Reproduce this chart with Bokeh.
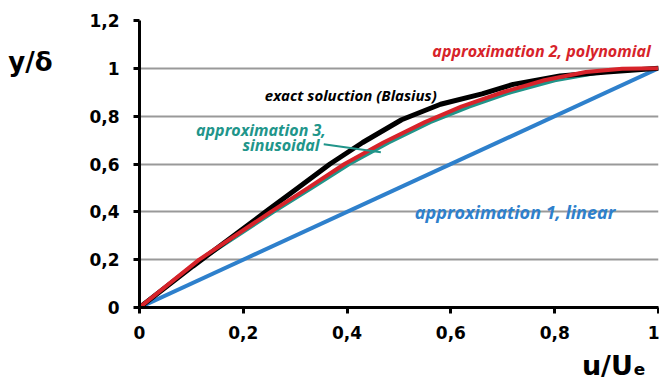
from bokeh.plotting import figure
from bokeh.models import Label, FixedTicker, Range1d, LinearAxis
from bokeh.embed import file_html
from bokeh.resources import INLINE

# Data
blasius_x = [0.0, 0.103, 0.243, 0.305, 0.367, 0.43, 0.505, 0.58, 0.66, 0.72, 0.81, 0.9, 1.0]
blasius_y = [0.0, 0.173, 0.40, 0.50, 0.60, 0.69, 0.785, 0.85, 0.893, 0.933, 0.968, 0.985, 1.0]

poly_x = [0.0, 0.115, 0.253, 0.325, 0.395, 0.47, 0.55, 0.62, 0.70, 0.78, 0.86, 0.93, 1.0]
poly_y = [0.0, 0.20, 0.40, 0.50, 0.60, 0.69, 0.775, 0.84, 0.90, 0.95, 0.985, 0.998, 1.0]

sin_x = [0.0, 0.118, 0.258, 0.332, 0.404, 0.48, 0.56, 0.635, 0.715, 0.80, 0.89, 1.0]
sin_y = [0.0, 0.20, 0.40, 0.50, 0.60, 0.69, 0.775, 0.84, 0.90, 0.95, 0.985, 1.0]

lin_x = [0.0, 1.0]
lin_y = [0.0, 1.0]

ticks = [0, 0.2, 0.4, 0.6, 0.8, 1, 1.2]
x_ticks = [0, 0.2, 0.4, 0.6, 0.8, 1]
tick_labels = ["0", "0,2", "0,4", "0,6", "0,8", "1", "1,2"]

x_title = "u/Uₑ"
y_title = "y/δ"

BLACK = "#000000"
RED = "#d7232a"
TEAL = "#21958a"
BLUE = "#2e80cc"

p = figure(width=659, height=388, output_backend="svg", toolbar_location=None,
           x_range=Range1d(0, 1), y_range=Range1d(0, 1.2),
           min_border_left=139, min_border_right=1, min_border_top=20, min_border_bottom=81)
p.outline_line_color = None
p.background_fill_color = "white"

p.line(lin_x, lin_y, line_color=BLUE, line_width=4)
p.line(sin_x, sin_y, line_color=TEAL, line_width=4)
p.line(blasius_x, blasius_y, line_color=BLACK, line_width=5)
p.line(poly_x, poly_y, line_color=RED, line_width=4)

# teal leader line
p.line([0.355, 0.465], [0.683, 0.649], line_color=TEAL, line_width=2)

overrides = {t: s for t, s in zip(ticks, tick_labels)}

for ax in (p.xaxis, p.yaxis):
    ax.axis_line_width = 3
    ax.axis_line_color = "black"
    ax.major_tick_line_width = 3
    ax.major_tick_in = 0
    ax.major_tick_out = 6
    ax.minor_tick_line_color = None
    ax.major_label_text_font = "DejaVu Sans"
    ax.major_label_text_font_style = "bold"
    ax.major_label_text_font_size = "17px"
    ax.major_label_text_color = "black"
    ax.major_label_overrides = overrides

p.xaxis.ticker = FixedTicker(ticks=x_ticks)
p.yaxis.ticker = FixedTicker(ticks=ticks)
p.xaxis.major_label_standoff = 12
p.yaxis.major_label_standoff = 14

# axis titles drawn as single-tick extra axes
xt = LinearAxis(ticker=FixedTicker(ticks=[0.914]), major_label_overrides={0.914: x_title},
                axis_line_color=None, major_tick_line_color=None, minor_tick_line_color=None,
                major_tick_in=0, major_tick_out=0, major_label_standoff=8,
                major_label_text_font="DejaVu Sans", major_label_text_font_style="bold",
                major_label_text_font_size="27px", major_label_text_color="black")
p.add_layout(xt, "below")
yt = LinearAxis(ticker=FixedTicker(ticks=[1.025]), major_label_overrides={1.025: y_title},
                axis_line_color=None, major_tick_line_color=None, minor_tick_line_color=None,
                major_tick_in=0, major_tick_out=0, major_label_standoff=34,
                major_label_text_font="DejaVu Sans", major_label_text_font_style="bold",
                major_label_text_font_size="26px", major_label_text_color="black")
p.add_layout(yt, "left")

p.xgrid.grid_line_color = None
p.ygrid.ticker = FixedTicker(ticks=ticks)
p.ygrid.grid_line_color = "#999999"
p.ygrid.grid_line_width = 2

def lab(x, y, text, color, size, align="left"):
    p.add_layout(Label(x=x, y=y, text=text, text_color=color, text_font_size=size,
                       text_font="Open Sans", text_font_style="bold italic", text_align=align,
                       text_baseline="alphabetic"))

lab(0.985, 1.072, "approximation 2, polynomial", RED, "16px", align="right")
lab(0.4071, 0.888, "exact soluction (Blasius)", BLACK, "15px", align="center")
lab(0.359, 0.742, "approximation 3,", TEAL, "16px", align="right")
lab(0.347, 0.678, "sinusoidal", TEAL, "16px", align="right")
lab(0.5304, 0.40, "approximation 1, linear", BLUE, "18px", align="left")

open("out.html", "w").write(file_html(p, INLINE))
